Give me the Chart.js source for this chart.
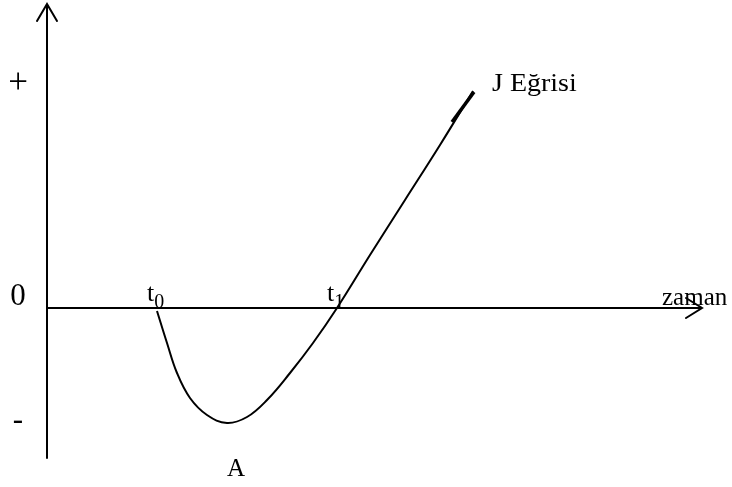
<!DOCTYPE html>
<html>
<head>
<meta charset="utf-8">
<script src="https://cdn.jsdelivr.net/npm/chart.js@4/dist/chart.umd.min.js"></script>
<style>
  html, body { margin: 0; padding: 0; background: #fff; }
  #wrap { width: 732px; height: 487px; }
</style>
</head>
<body>
<div id="wrap"><canvas id="jChart"></canvas></div>
<script>
// J-Eğrisi: zaman (x) ve değer (y), eksenler 0'da kesişir
const zaman = [11.0, 12.0, 13.0, 14.3, 16.0, 18.0, 20.0, 22.0, 24.3, 26.6, 29.0, 32.3, 35.8, 39.3, 42.6];
const deger = [-0.3, -3.5, -6.5, -9.0, -10.7, -11.5, -10.9, -9.2, -6.5, -3.5, 0.0, 5.3, 10.8, 16.3, 21.7];
// kalın uç parçası
const ucZaman = [40.5, 42.7];
const ucDeger = [18.6, 21.6];

const eksenEtiketleri = ["+", "0", "-"];
const eksenDegerleri = [22.4, 1.1, -11.3];
const zamanEtiketleri = ["t", "t"];
const zamanAltIndis = ["0", "1"];
const zamanNoktalari = [11.0, 29.0];

const xMin = -4.7, xMax = 68.5, yMin = -17.9, yMax = 30.8;
const eksenUcuX = 65.5, eksenUcuY = 30.4, eksenAltY = -15.0;

const seri = zaman.map((x, i) => ({ x: x, y: deger[i] }));
const uc = ucZaman.map((x, i) => ({ x: x, y: ucDeger[i] }));

const eksenCiz = {
  id: "eksenCiz",
  afterDatasetsDraw(chart) {
    const ctx = chart.ctx;
    const xs = chart.scales.x, ys = chart.scales.y;
    const x0 = xs.getPixelForValue(0), y0 = ys.getPixelForValue(0);
    ctx.save();
    ctx.strokeStyle = "#000";
    ctx.lineWidth = 2;
    ctx.lineCap = "round";
    // dikey eksen
    const yTop = ys.getPixelForValue(eksenUcuY);
    ctx.beginPath();
    ctx.moveTo(x0, ys.getPixelForValue(eksenAltY));
    ctx.lineTo(x0, yTop);
    ctx.moveTo(x0 - 10, yTop + 17);
    ctx.lineTo(x0, yTop);
    ctx.lineTo(x0 + 10, yTop + 17);
    ctx.stroke();
    // yatay eksen
    const xEnd = xs.getPixelForValue(eksenUcuX);
    ctx.beginPath();
    ctx.moveTo(x0, y0);
    ctx.lineTo(xEnd, y0);
    ctx.moveTo(xEnd - 16, y0 - 10);
    ctx.lineTo(xEnd, y0);
    ctx.lineTo(xEnd - 16, y0 + 10);
    ctx.stroke();

    ctx.fillStyle = "#000";
    // y etiketleri
    ctx.textAlign = "center";
    ctx.textBaseline = "middle";
    eksenEtiketleri.forEach((t, i) => {
      ctx.font = (t === "+" ? "35px" : "31px") + " 'Liberation Serif'";
      ctx.fillText(t, x0 - 29, ys.getPixelForValue(eksenDegerleri[i]));
    });
    // t0, t1
    ctx.textBaseline = "alphabetic";
    ctx.textAlign = "left";
    zamanEtiketleri.forEach((t, i) => {
      const px = xs.getPixelForValue(zamanNoktalari[i]);
      ctx.font = "26px 'Liberation Serif'";
      const bx = px - 10;
      ctx.fillText(t, bx, y0 - 7);
      const w = ctx.measureText(t).width;
      ctx.font = "20px 'Liberation Serif'";
      ctx.fillText(zamanAltIndis[i], bx + w, y0);
    });
    // zaman
    ctx.font = "25px 'Liberation Serif'";
    ctx.fillText("zaman", xs.getPixelForValue(61.5), y0 - 3);
    // J Eğrisi
    const son = seri[seri.length - 1];
    ctx.save();
    ctx.translate(xs.getPixelForValue(son.x) + 19, ys.getPixelForValue(son.y) + 0);
    ctx.scale(1.12, 1);
    ctx.fillText("J Eğrisi", 0, 0);
    ctx.restore();
    // A
    const dip = seri[5];
    ctx.fillText("A", xs.getPixelForValue(dip.x), ys.getPixelForValue(dip.y) + 53);
    ctx.restore();
  }
};

new Chart(document.getElementById("jChart"), {
  type: "scatter",
  data: {
    datasets: [
      {
        data: seri,
        showLine: true,
        borderColor: "#000",
        borderWidth: 2,
        pointRadius: 0,
        tension: 0.4,
        fill: false
      },
      {
        data: uc,
        showLine: true,
        borderColor: "#000",
        borderWidth: 3.5,
        pointRadius: 0,
        fill: false
      }
    ]
  },
  options: {
    responsive: true,
    maintainAspectRatio: false,
    animation: false,
    layout: { padding: 0 },
    plugins: { legend: { display: false }, tooltip: { enabled: false } },
    scales: {
      x: { type: "linear", min: xMin, max: xMax, display: false },
      y: { type: "linear", min: yMin, max: yMax, display: false }
    }
  },
  plugins: [eksenCiz]
});
</script>
</body>
</html>
